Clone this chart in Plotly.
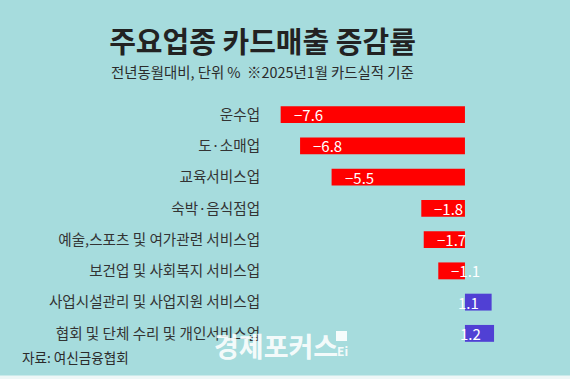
import plotly.graph_objects as go

categories = [
    "운수업",
    "도·소매업",
    "교육서비스업",
    "숙박·음식점업",
    "예술,스포츠 및 여가관련 서비스업",
    "보건업 및 사회복지 서비스업",
    "사업시설관리 및 사업지원 서비스업",
    "협회 및 단체 수리 및 개인서비스업",
]
values = [-7.6, -6.8, -5.5, -1.8, -1.7, -1.1, 1.1, 1.2]
value_labels = ["−7.6", "−6.8", "−5.5", "−1.8", "−1.7", "−1.1", "1.1", "1.2"]

title_text = "주요업종 카드매출 증감률"
subtitle_text = "전년동월대비, 단위 %  ※2025년1월 카드실적 기준"
source_text = "자료: 여신금융협회"
watermark_text = "경제포커스"

FONT = "Noto Sans CJK KR"
BG = "#A6DCDD"
RED = "#FF0000"
BLUE = "#5040D4"

colors = [RED if v < 0 else BLUE for v in values]

fig = go.Figure()
fig.add_trace(go.Bar(
    x=values,
    y=categories,
    orientation="h",
    marker=dict(color=colors, line=dict(width=0)),
    hoverinfo="skip",
))

annotations = []
for c, v, t in zip(categories, values, value_labels):
    annotations.append(dict(
        x=v, y=c, xref="x", yref="y",
        text=t, showarrow=False,
        xanchor="left" if v < 0 else "right",
        xshift=11 if v < 0 else -11,
        yanchor="middle",
        font=dict(family=FONT, size=15, color="white"),
    ))

W, H = 570, 379
ml, mr, mt, mb = 270, 10, 99, 30
pw, ph = W - ml - mr, H - mt - mb


def px(xp):
    return (xp - ml) / pw


def py(yp):
    return (H - mb - yp) / ph


annotations.append(dict(
    x=px(262.5), y=py(72), xref="paper", yref="paper",
    text=subtitle_text, showarrow=False, xanchor="center", yanchor="middle",
    font=dict(family=FONT, size=14.4, color="#2b2b2b"),
))
annotations.append(dict(
    x=px(20), y=py(356.5), xref="paper", yref="paper",
    text=source_text, showarrow=False, xanchor="left", yanchor="middle",
    font=dict(family=FONT, size=13.6, color="#2b2b2b"),
))
annotations.append(dict(
    x=px(276), y=py(345), xref="paper", yref="paper",
    text="<b>" + watermark_text + "</b>", showarrow=False, xanchor="center", yanchor="middle",
    font=dict(family=FONT, size=27, color="rgba(255,255,255,0.9)"),
))
annotations.append(dict(
    x=px(342), y=py(350), xref="paper", yref="paper",
    text="<b>Ei</b>", showarrow=False, xanchor="center", yanchor="middle",
    font=dict(family=FONT, size=12, color="rgba(255,255,255,0.9)"),
))

shapes = [
    dict(type="rect", xref="paper", yref="paper",
         x0=px(-5), x1=px(W + 5), y0=py(375.5), y1=py(H + 5),
         fillcolor="#EEF7F7", line=dict(width=0), layer="below"),
    dict(type="rect", xref="paper", yref="paper",
         x0=px(336), x1=px(347), y0=py(341), y1=py(331),
         fillcolor="rgba(255,255,255,0.9)", line=dict(width=0)),
]

fig.update_layout(
    width=W, height=H,
    margin=dict(l=ml, r=mr, t=mt, b=mb, pad=0),
    paper_bgcolor=BG, plot_bgcolor=BG,
    showlegend=False,
    bargap=0.46,
    title=dict(
        text="<b>" + title_text + "</b>",
        x=262.5 / W, xanchor="center", xref="container",
        y=1 - 43 / H, yanchor="middle", yref="container",
        font=dict(family=FONT, size=29, color="#222222"),
    ),
    xaxis=dict(range=[-8.04, 3.92], visible=False, fixedrange=True),
    yaxis=dict(
        autorange="reversed",
        showgrid=False, zeroline=False, showline=False,
        ticks="outside", ticklen=6, tickcolor="rgba(0,0,0,0)",
        tickfont=dict(family=FONT, size=14.6, color="#333333"),
        fixedrange=True,
    ),
    annotations=annotations,
    shapes=shapes,
    font=dict(family=FONT),
)

fig.write_html(
    "out.html",
    config={"displayModeBar": False, "staticPlot": True},
    post_script="document.body.style.margin='0';document.body.style.overflow='hidden';",
)
